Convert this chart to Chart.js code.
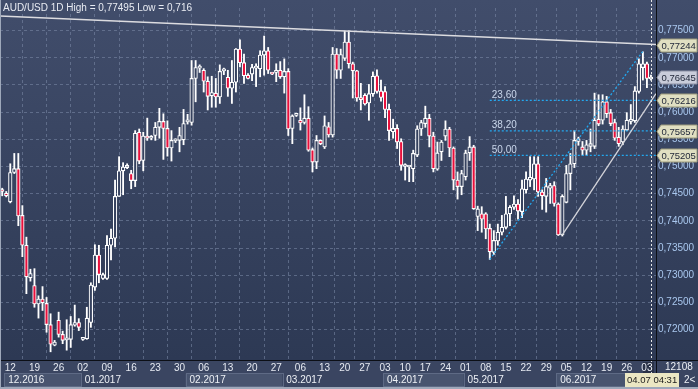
<!DOCTYPE html>
<html><head><meta charset="utf-8">
<script src="https://cdn.jsdelivr.net/npm/chart.js@4.4.1/dist/chart.umd.min.js"></script>
<style>html,body{margin:0;padding:0;background:#33405c;overflow:hidden}#wrap{width:698px;height:389px;position:relative}canvas{display:block}</style>
</head><body>
<div id="wrap"><canvas id="c" width="698" height="389"></canvas></div>
<script>
// ---- data (AUD/USD daily candles, index 0 = 09.12.2016 ... 161 = 04.07.2017) ----
const opens = [0.7455,0.7451,0.7435,0.7489,0.7496,0.7410,0.7355,0.7295,0.7281,0.7247,0.7256,0.7248,0.7209,0.7171,0.7217,0.7191,0.7181,0.7182,0.7208,0.7213,
0.7182,0.7183,0.7213,0.7278,0.7337,0.7294,0.7294,0.7355,0.7368,0.7445,0.7492,0.7498,0.7487,0.7474,0.7563,0.7511,0.7556,0.7552,0.7557,0.7572,
0.7583,0.7570,0.7534,0.7547,0.7548,0.7549,0.7582,0.7581,0.7662,0.7681,0.7677,0.7657,0.7630,0.7635,0.7628,0.7676,0.7664,0.7644,0.7655,0.7716,
0.7691,0.7668,0.7670,0.7681,0.7680,0.7705,0.7713,0.7671,0.7673,0.7677,0.7665,0.7675,0.7570,0.7594,0.7585,0.7581,0.7589,0.7531,0.7508,0.7548,
0.7536,0.7573,0.7558,0.7707,0.7677,0.7699,0.7729,0.7689,0.7676,0.7626,0.7631,0.7617,0.7634,0.7667,0.7639,0.7638,0.7605,0.7564,0.7570,0.7546,
0.7500,0.7499,0.7496,0.7521,0.7569,0.7579,0.7589,0.7556,0.7495,0.7527,0.7556,0.7569,0.7534,0.7475,0.7463,0.7481,0.7525,0.7536,0.7408,0.7413,
0.7413,0.7386,0.7342,0.7363,0.7379,0.7388,0.7413,0.7425,0.7431,0.7417,0.7457,0.7475,0.7477,0.7505,0.7453,0.7445,0.7460,0.7465,0.7431,0.7374,
0.7434,0.7487,0.7505,0.7546,0.7536,0.7530,0.7537,0.7537,0.7587,0.7585,0.7619,0.7599,0.7581,0.7554,0.7545,0.7567,0.7583,0.7584,0.7638,0.7682,
0.7689,0.7661];
const highs = [0.7460,0.7454,0.7505,0.7524,0.7524,0.7428,0.7370,0.7311,0.7312,0.7262,0.7279,0.7259,0.7229,0.7180,0.7232,0.7197,0.7218,0.7224,0.7245,0.7220,
0.7185,0.7241,0.7286,0.7356,0.7355,0.7304,0.7373,0.7385,0.7475,0.7518,0.7507,0.7505,0.7493,0.7566,0.7569,0.7563,0.7589,0.7557,0.7581,0.7607,
0.7597,0.7584,0.7566,0.7551,0.7572,0.7605,0.7596,0.7695,0.7695,0.7687,0.7680,0.7665,0.7666,0.7662,0.7687,0.7681,0.7677,0.7695,0.7717,0.7733,
0.7707,0.7671,0.7688,0.7689,0.7713,0.7740,0.7719,0.7672,0.7689,0.7693,0.7698,0.7680,0.7595,0.7598,0.7608,0.7632,0.7610,0.7534,0.7557,0.7549,
0.7593,0.7581,0.7719,0.7717,0.7716,0.7749,0.77495,0.7692,0.7677,0.7653,0.7634,0.7651,0.7674,0.7678,0.7659,0.7647,0.7615,0.7587,0.7577,0.7551,
0.7505,0.7502,0.7530,0.7575,0.7585,0.7611,0.7596,0.7563,0.7545,0.7548,0.7584,0.7572,0.7536,0.7490,0.7493,0.7530,0.7555,0.7539,0.7427,0.7426,
0.7415,0.7394,0.7382,0.7394,0.7410,0.7445,0.7428,0.7446,0.7439,0.7475,0.7490,0.7518,0.7518,0.7518,0.7457,0.7478,0.7469,0.7472,0.7433,0.7448,
0.7502,0.7524,0.7566,0.7554,0.7546,0.7548,0.7569,0.7635,0.7632,0.7632,0.7629,0.7605,0.7587,0.7572,0.7575,0.7599,0.7614,0.7647,0.7698,0.7711,
0.7692,0.7668];
const lows = [0.7446,0.7444,0.7433,0.7487,0.7391,0.7334,0.7266,0.7289,0.7241,0.7221,0.7235,0.7195,0.7159,0.7170,0.7186,0.7174,0.7162,0.7167,0.7206,0.7198,
0.7180,0.7182,0.7204,0.7272,0.7286,0.7292,0.7292,0.7328,0.7352,0.7445,0.7448,0.7496,0.7459,0.7463,0.7505,0.7492,0.7548,0.7549,0.7548,0.7552,
0.7513,0.7519,0.7510,0.7544,0.7527,0.7540,0.7578,0.7576,0.7619,0.7673,0.7637,0.7604,0.7609,0.7609,0.7616,0.7669,0.7629,0.7616,0.7637,0.7683,
0.7653,0.7661,0.7658,0.7647,0.7665,0.7668,0.7671,0.7669,0.7656,0.7662,0.7635,0.7557,0.7542,0.7592,0.7567,0.7578,0.7528,0.7490,0.7496,0.7540,
0.7533,0.7554,0.7554,0.7662,0.7662,0.7695,0.7681,0.7626,0.7620,0.7604,0.7613,0.7585,0.7629,0.7635,0.7620,0.7590,0.7548,0.7552,0.7533,0.7493,
0.7475,0.7472,0.7472,0.7518,0.7557,0.7572,0.7536,0.7490,0.7493,0.7511,0.7548,0.7518,0.7457,0.7440,0.7448,0.7475,0.7511,0.7421,0.7382,0.7379,
0.7367,0.7329,0.7338,0.7355,0.7374,0.7385,0.7391,0.7421,0.7403,0.7406,0.7451,0.7463,0.7457,0.7445,0.7421,0.7416,0.7432,0.7427,0.7373,0.7372,
0.7433,0.7457,0.7498,0.7539,0.7521,0.7521,0.7527,0.7533,0.7575,0.7578,0.7590,0.7575,0.7548,0.7537,0.7540,0.7566,0.7578,0.7581,0.7635,0.7659,
0.7645,0.7659];
const closes = [0.7454,0.7446,0.7489,0.7496,0.7409,0.7355,0.7297,0.7303,0.7247,0.7256,0.7249,0.7209,0.7173,0.7177,0.7191,0.7180,0.7182,0.7209,0.7213,0.7204,
0.7184,0.7221,0.7282,0.7337,0.7301,0.7301,0.7355,0.7368,0.7445,0.7492,0.7499,0.7502,0.7474,0.7561,0.7510,0.7556,0.7552,0.7553,0.7572,0.7583,
0.7570,0.7534,0.7548,0.7548,0.7557,0.7579,0.7583,0.7662,0.7682,0.7682,0.7657,0.7629,0.7636,0.7628,0.7675,0.7677,0.7644,0.7655,0.7716,0.7691,
0.7667,0.7662,0.7682,0.7682,0.7705,0.7713,0.7677,0.7670,0.7677,0.7665,0.7675,0.7569,0.7593,0.7595,0.7580,0.7589,0.7530,0.7508,0.7548,0.7542,
0.7575,0.7558,0.7707,0.7677,0.7706,0.7729,0.7689,0.7676,0.7626,0.7623,0.7615,0.7634,0.7666,0.7638,0.7627,0.7605,0.7566,0.7570,0.7545,0.7502,
0.7501,0.7500,0.7524,0.7569,0.7581,0.7589,0.7556,0.7496,0.7525,0.7545,0.7569,0.7534,0.7475,0.7463,0.7487,0.7525,0.7536,0.7422,0.7422,0.7403,
0.7385,0.7343,0.7364,0.7379,0.7388,0.7413,0.7425,0.7431,0.7418,0.7459,0.7477,0.7480,0.7505,0.7453,0.7446,0.7463,0.7465,0.7432,0.7374,0.7445,
0.7487,0.7505,0.7548,0.7551,0.7530,0.7540,0.7542,0.7585,0.7578,0.7619,0.7597,0.7579,0.7552,0.7542,0.7569,0.7585,0.7585,0.7639,0.7689,0.7689,
0.7662,0.76645];

// x axis: week ticks (candle index -> day label) and month bands
const weekTickIdx    = [2,8,14,20,26,32,38,44,50,56,62,68,74,80,85,90,95,100,105,110,115,120,125,130,135,140,145,150,155,160];
const weekTickLabels = ['12','19','26','02','09','16','23','30','06','13','20','27','06','13','20','27','03','10','17','24','01','08','15','22','29','05','12','19','26','03'];
const monthStartIdx  = [1,20,46,70,95,115,138];
const monthLabels    = ['12.2016','01.2017','02.2017','03.2017','04.2017','05.2017','06.2017'];
// y axis ticks
const priceTicks = [0.72,0.725,0.73,0.735,0.74,0.745,0.75,0.755,0.76,0.765,0.77,0.775];
// drawn objects
const resistanceLine = [{x:-0.55,y:0.7777},{x:162.25,y:0.77244}];
const supportLine    = [{x:139,y:0.7374},{x:162.25,y:0.7634}];
const fibSwing       = [{x:121,y:0.7329},{x:159,y:0.7712}];
const fibStartIdx    = 121;
const fibLevels      = [0.76216,0.75657,0.75205];
const fibLabels      = ['23,60','38,20','50,00'];
const markedPrices   = [0.77244,0.76645,0.76216,0.75657,0.75205];
const currentIdx     = 161;
const titleText      = 'AUD/USD 1D High = 0,77495 Low = 0,716';

const FONT = '"Liberation Sans", Arial, sans-serif';
const idx = opens.map((_, i) => i);
const fmt = v => v.toFixed(5).replace('.', ',');

const bgPlugin = {
  id: 'bg',
  beforeDraw(chart) {
    const ctx = chart.ctx, W = chart.width, H = chart.height;
    const g = ctx.createLinearGradient(0, 0, 0, 360);
    g.addColorStop(0, '#414d6b');
    g.addColorStop(1, '#2d3954');
    ctx.save();
    ctx.fillStyle = g;
    ctx.fillRect(0, 0, W, 360);
    ctx.fillStyle = '#3a4561';
    ctx.fillRect(0, 360, W, H - 360);
    // month bands
    const xs = chart.scales.x;
    ctx.font = '10px ' + FONT;
    ctx.textBaseline = 'middle';
    for (let m = 0; m < monthStartIdx.length; m++) {
      const x0 = xs.getPixelForValue(monthStartIdx[m] - 0.5);
      const x1 = m + 1 < monthStartIdx.length ? xs.getPixelForValue(monthStartIdx[m + 1] - 0.5) : 656;
      if (m % 2 === 0) {
        ctx.fillStyle = '#48546f';
        ctx.fillRect(x0, 373.5, x1 - x0, 13);
        ctx.strokeStyle = '#5e6a85';
        ctx.lineWidth = 1;
        ctx.strokeRect(Math.round(x0) + 0.5, 373.5, Math.round(x1 - x0), 13);
      }
      ctx.fillStyle = '#eef1f6';
      ctx.fillText(monthLabels[m], x0 + 4, 380.5);
    }
    // highlight behind the current week label
    const cx = xs.getPixelForValue(currentIdx);
    ctx.fillStyle = '#2a3247';
    ctx.fillRect(cx - 8, 362, 11, 11);
    ctx.restore();
  },
  afterDraw(chart) {
    const ctx = chart.ctx, xs = chart.scales.x, ys = chart.scales.y;
    ctx.save();
    // title
    ctx.font = '10px ' + FONT;
    ctx.fillStyle = '#e8ebf2';
    ctx.textBaseline = 'middle';
    ctx.fillText(titleText, 3, 8.5);
    // fib labels
    ctx.font = '10px ' + FONT;
    ctx.fillStyle = '#c9d6ea';
    const fx = xs.getPixelForValue(fibStartIdx) + 2;
    fibLevels.forEach((lv, i) => ctx.fillText(fibLabels[i], fx, ys.getPixelForValue(lv) - 5.5));
    // current bar dotted line
    const cx = Math.round(xs.getPixelForValue(currentIdx)) + 0.5;
    ctx.strokeStyle = '#e8e8e8';
    ctx.lineWidth = 1;
    ctx.setLineDash([2, 2]);
    ctx.beginPath(); ctx.moveTo(cx, 0); ctx.lineTo(cx, 374); ctx.stroke();
    ctx.setLineDash([]);
    // axis frame lines
    ctx.strokeStyle = '#0c0f16';
    ctx.beginPath();
    ctx.moveTo(656.5, 0); ctx.lineTo(656.5, 389);
    ctx.moveTo(0, 360.5); ctx.lineTo(698, 360.5);
    ctx.stroke();
    // marked price labels on the right axis
    markedPrices.forEach((p, i) => {
      const y = Math.round(ys.getPixelForValue(p)) + 0.5;
      ctx.beginPath();
      ctx.moveTo(657, y);
      ctx.lineTo(661, y - 6.5);
      ctx.lineTo(697, y - 6.5);
      ctx.lineTo(697, y + 6.5);
      ctx.lineTo(661, y + 6.5);
      ctx.closePath();
      ctx.fillStyle = i === 1 ? '#c9ccda' : '#e0dfc2';
      ctx.fill();
      ctx.strokeStyle = i === 1 ? '#8c90a4' : '#9c9a7c';
      ctx.stroke();
      ctx.fillStyle = '#1d2436';
      ctx.font = '9.5px ' + FONT;
      ctx.textBaseline = 'middle';
      ctx.fillText(fmt(p), 661.5, y + 0.5);
    });
    // bottom right info
    ctx.fillStyle = '#eef1f6';
    ctx.font = '10px ' + FONT;
    ctx.fillText('12108', 665, 367.5);
    ctx.fillText('2<', 684, 380.5);
    // date tooltip
    ctx.fillStyle = '#ebe7c3';
    ctx.fillRect(625, 373, 54, 14);
    ctx.fillStyle = '#1a1a1a';
    ctx.font = '9.5px ' + FONT;
    ctx.fillText('04.07 04:31', 627, 380.5);
    // outer frame
    ctx.fillStyle = '#9ea8ba';
    ctx.fillRect(0, 387, 698, 2);
    ctx.fillRect(0, 0, 1, 389);
    ctx.restore();
  }
};

const bodyLo = idx.map(i => Math.min(opens[i], closes[i]));
const bodyHi = idx.map(i => Math.max(opens[i], closes[i]));
const fibStyle = { type: 'line', borderColor: '#22a8f0', borderWidth: 1.3, borderDash: [2, 2], pointRadius: 0, order: 0 };

new Chart(document.getElementById('c'), {
  type: 'bar',
  data: {
    datasets: [
      { type: 'line', data: resistanceLine, borderColor: '#dcdce0', borderWidth: 1.5, pointRadius: 0, order: 0 },
      { type: 'line', data: supportLine, borderColor: '#d4d4da', borderWidth: 1.3, pointRadius: 0, order: 0 },
      Object.assign({ data: fibSwing }, fibStyle),
      ...fibLevels.map(lv => Object.assign({ data: [{x: fibStartIdx, y: lv}, {x: 162.25, y: lv}] }, fibStyle)),
      { label: 'body', data: idx.map(i => ({x: i, y: [bodyLo[i], bodyHi[i]]})),
        backgroundColor: idx.map(i => closes[i] < opens[i] ? '#e8103c' : '#36425f'),
        borderColor: '#ffffff', borderWidth: 1.1, borderSkipped: false, barThickness: 3.6, minBarLength: 2, grouped: false, order: 1 },
      { label: 'wick', data: idx.map(i => ({x: i, y: [lows[i], highs[i]]})),
        backgroundColor: '#ffffff', borderWidth: 0, barThickness: 1.2, grouped: false, order: 2 }
    ]
  },
  options: {
    animation: false, responsive: false, maintainAspectRatio: false,
    layout: { padding: { left: 0, right: 0, top: 2, bottom: 0 } },
    plugins: { legend: { display: false }, tooltip: { enabled: false } },
    scales: {
      x: {
        type: 'linear', min: -0.55, max: 162.25, offset: false,
        afterBuildTicks: s => { s.ticks = weekTickIdx.map(v => ({ value: v })); },
        afterFit: s => { s.height = 29; },
        ticks: { autoSkip: false, maxRotation: 0, padding: 2, color: '#e6eaf2', font: { family: FONT, size: 10 },
                 callback: (v, i) => weekTickLabels[i] },
        grid: { color: 'rgba(125,140,170,0.55)', drawTicks: false, lineWidth: 1 },
        border: { display: false, dash: [3, 3] }
      },
      y: {
        position: 'right', min: 0.714392, max: 0.779161,
        afterBuildTicks: s => { s.ticks = priceTicks.map(v => ({ value: v })); },
        afterFit: s => { s.width = 42; },
        ticks: { padding: 2, color: '#a9c7ee', font: { family: FONT, size: 10 }, callback: v => fmt(v) },
        grid: { color: 'rgba(125,140,170,0.55)', drawTicks: false, lineWidth: 1 },
        border: { display: false, dash: [3, 3] }
      }
    }
  },
  plugins: [bgPlugin]
});
</script>
</body></html>
